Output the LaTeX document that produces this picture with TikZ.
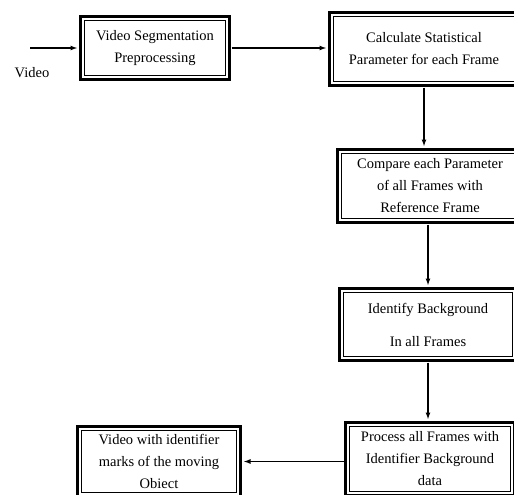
\documentclass[tikz,border=0pt]{standalone}
\usepackage{fontspec}
\setmainfont{Liberation Serif}
\usetikzlibrary{arrows.meta}
\tikzset{
    dblock/.style = {
        draw, line width=3pt, rectangle, align=center,
        outer sep=0,
        inner sep=0,
        font=\fontsize{14.5}{22}\selectfont,
        path picture={
            \draw[line width=0.9pt]
                ([shift={(3.6pt,-3.6pt)}]path picture bounding box.north west) rectangle
                ([shift={(-3.6pt,3.6pt)}]path picture bounding box.south east);
        }
    },
    flow/.style = {
        -{Latex[length=7pt,width=5pt]}, line width=1.3pt,
        shorten >=3pt, shorten <=2pt
    }
}

\begin{document}
\begin{tikzpicture}[x=1pt,y=-1pt]
\useasboundingbox (0,0) rectangle (514,495);

\node[dblock, minimum width=149, minimum height=63](Seg) at (155,48)
    {Video Segmentation\\Preprocessing};
\node[dblock, minimum width=189, minimum height=73](Calc) at (424,49)
    {Calculate Statistical\\Parameter for each Frame};
\node[dblock, minimum width=185, minimum height=73](Comp) at (430,186)
    {Compare each Parameter\\of all Frames with\\Reference Frame};
\node[dblock, minimum width=177, minimum height=72](Ident) at (428,324.5)
    {Identify Background\\[11pt]In all Frames};
\node[dblock, minimum width=169, minimum height=73](Proc) at (430,459)
    {Process all Frames with\\Identifier Background\\data};
\node[dblock, minimum width=163, minimum height=70](Vid) at (159,461.5)
    {Video with identifier\\marks of the moving\\Obiect};

\coordinate (In) at (28,48);
\node[font=\fontsize{14.5}{17}\selectfont](VideoLbl) at (32,73){Video};

\draw[flow] (In) -- (In -| Seg.west);
\draw[flow] (Seg.east) -- (Calc.west |- Seg.east);
\draw[flow] (Calc.south) -- (Calc.south |- Comp.north);
\draw[flow] (Comp.south -| Ident.north) -- (Ident.north);
\draw[flow] (Ident.south) -- (Ident.south |- Proc.north);
\draw[flow] (Proc.west |- Vid.east) -- (Vid.east);

\end{tikzpicture}
\end{document}
